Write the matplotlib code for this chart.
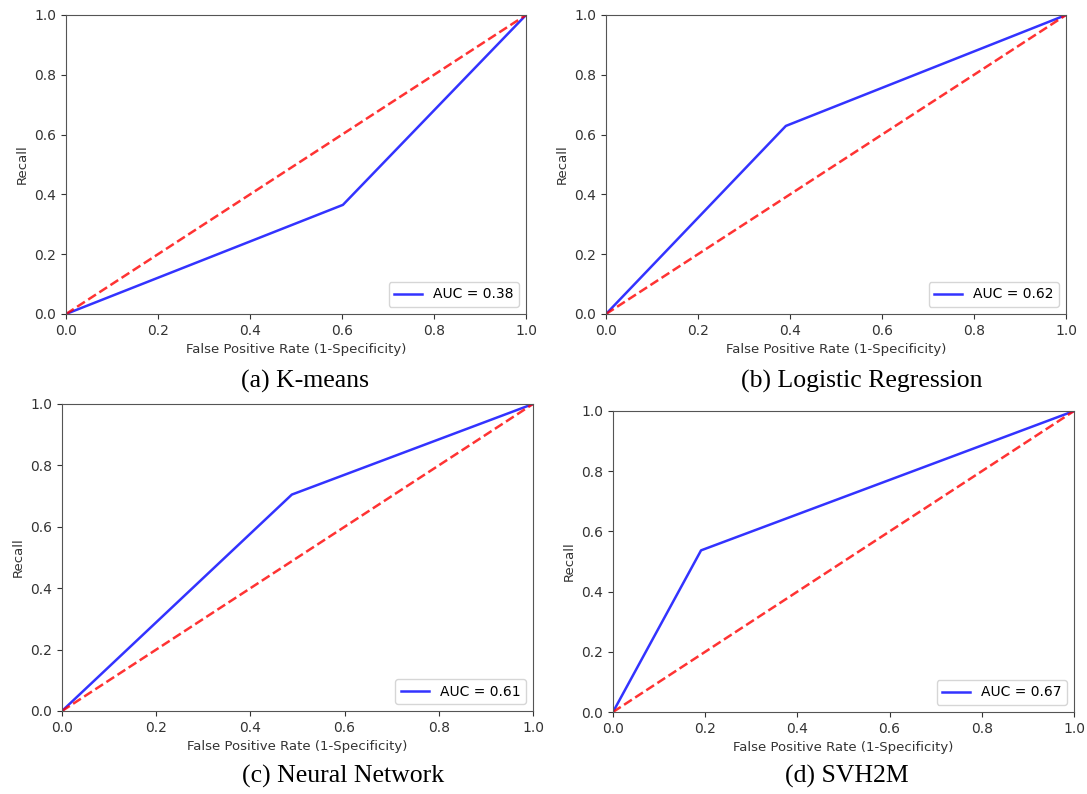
import matplotlib

matplotlib.use("Agg")

import matplotlib.pyplot as plt

W, H = 1087, 794

# ROC points per model (fpr, tpr) and their AUC
models = ["K-means", "Logistic Regression", "Neural Network", "SVH2M"]
fpr_values = [
    [0.0, 0.602, 1.0],
    [0.0, 0.391, 1.0],
    [0.0, 0.488, 1.0],
    [0.0, 0.191, 1.0],
]
tpr_values = [
    [0.0, 0.365, 1.0],
    [0.0, 0.629, 1.0],
    [0.0, 0.705, 1.0],
    [0.0, 0.537, 1.0],
]
auc_values = [0.38, 0.62, 0.61, 0.67]
captions = ["(a) K-means", "(b) Logistic Regression", "(c) Neural Network", "(d) SVH2M"]
ticks = [0.0, 0.2, 0.4, 0.6, 0.8, 1.0]

# axes boxes in pixels: left, top, right, bottom
boxes = [
    (66, 15, 526, 314),
    (606, 15, 1066, 314),
    (62, 404, 533, 711),
    (613, 411, 1074, 712),
]
caption_pos = [(305, 381), (862, 381), (343, 776), (847, 776)]

fig = plt.figure(figsize=(W / 100, H / 100), dpi=100)

for i, (l, t, r, b) in enumerate(boxes):
    ax = fig.add_axes([l / W, 1 - b / H, (r - l) / W, (b - t) / H])
    ax.plot(fpr_values[i], tpr_values[i], color="b", linewidth=1.8, alpha=0.8,
            label=f"AUC = {auc_values[i]:.2f}")
    ax.plot([0, 1], [0, 1], "r--", linewidth=1.8, alpha=0.8)
    ax.set_xlim(0, 1)
    ax.set_ylim(0, 1)
    ax.set_xticks(ticks)
    ax.set_yticks(ticks)
    ax.tick_params(labelsize=10, colors="#333333", length=3.5)
    for s in ax.spines.values():
        s.set_color("#555555")
        s.set_linewidth(0.8)
    ax.set_xlabel("False Positive Rate (1-Specificity)", fontsize=9.5, color="#333333")
    ax.set_ylabel("Recall", fontsize=9.5, color="#333333")
    ax.legend(loc="lower right", fontsize=10)

for text, (x, y) in zip(captions, caption_pos):
    fig.text(x / W, 1 - y / H, text, ha="center", va="center",
             family="Liberation Serif", fontsize=18.5)

fig.savefig("out.png", dpi=100)
